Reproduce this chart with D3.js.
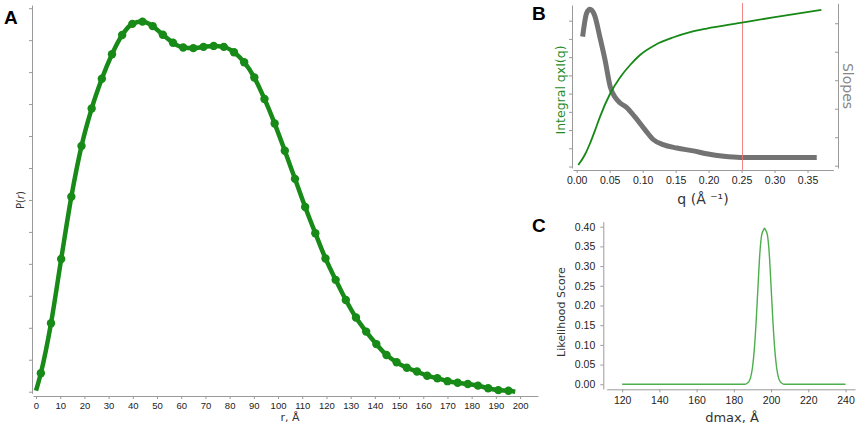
<!DOCTYPE html>
<html>
<head>
<meta charset="utf-8">
<script src="https://cdn.jsdelivr.net/npm/d3@7"></script>
<style>
  body { margin: 0; background: #fff; }
  svg { display: block; font-family: "DejaVu Sans", sans-serif; }
  .ax path, .ax line { stroke: #9a9a9a; }
  .ax text { fill: #222; }
</style>
</head>
<body>
<svg id="fig" width="858" height="426"></svg>
<script>
// ---- panel A : P(r) ----
const rVals = [0, 2.0, 6.2, 10.4, 14.6, 18.8, 23.0, 27.2, 31.4, 35.6, 39.8, 44.0, 48.2, 52.4, 56.6,
  60.8, 65.0, 69.2, 73.4, 77.6, 81.8, 86.0, 90.2, 94.4, 98.6, 102.8, 107.0, 111.2, 115.4, 119.6,
  123.8, 128.0, 132.2, 136.4, 140.6, 144.8, 149.0, 153.2, 157.4, 161.6, 165.8, 170.0, 174.2,
  178.4, 182.6, 186.8, 191.0, 195.2, 198.0];
const prVals = [0.03, 0.58, 2.14, 4.15, 6.10, 7.69, 8.86, 9.79, 10.56, 11.16, 11.51, 11.58, 11.44, 11.17, 10.92,
  10.77, 10.75, 10.79, 10.82, 10.79, 10.62, 10.31, 9.83, 9.16, 8.39, 7.54, 6.66, 5.78, 4.96, 4.17,
  3.50, 2.87, 2.32, 1.88, 1.49, 1.15, 0.92, 0.75, 0.63, 0.50, 0.42, 0.33, 0.28,
  0.24, 0.19, 0.11, 0.05, 0.03, 0.0];
const rTicks = d3.range(0, 201, 10);
const prTicks = d3.range(0, 13, 1);

// ---- panel B : integral and slopes ----
const qInt = [0.0024, 0.0126, 0.020, 0.028, 0.035, 0.051, 0.066, 0.081, 0.096, 0.119, 0.147, 0.172, 0.197, 0.248, 0.298, 0.371];
const intVals = [0.08, 0.66, 1.25, 2.0, 2.7, 4.02, 4.90, 5.57, 6.12, 6.67, 7.09, 7.37, 7.57, 7.88, 8.18, 8.59];
const qSlope = [0.009, 0.015, 0.020, 0.027, 0.035, 0.043, 0.051, 0.058, 0.066, 0.076, 0.088, 0.104, 0.116, 0.131,
  0.152, 0.177, 0.197, 0.223, 0.248, 0.298, 0.364];
const slopeVals = [4.53, 5.35, 5.49, 5.29, 4.53, 3.71, 2.76, 2.41, 2.20, 2.04, 1.72, 1.25, 0.92, 0.74,
  0.62, 0.52, 0.42, 0.33, 0.29, 0.29, 0.29];
const qCut = 0.25;
const qTicks = [0, 0.05, 0.10, 0.15, 0.20, 0.25, 0.30, 0.35];

// ---- panel C : likelihood ----
const dmaxVals = [120, 186, 187, 188, 189, 190, 191, 192, 193, 194, 195, 196, 196.5, 197, 198, 199, 200,
  201, 202, 203, 204, 205, 206, 207, 240];
const scoreVals = [0, 0, 0.002, 0.006, 0.017, 0.042, 0.088, 0.160, 0.249, 0.334, 0.380, 0.392, 0.396, 0.392, 0.380, 0.334, 0.249,
  0.160, 0.088, 0.042, 0.017, 0.006, 0.002, 0, 0];
const dmaxTicks = d3.range(120, 241, 20);
const scoreTicks = d3.range(0, 0.41, 0.05);

const svg = d3.select("#fig");

// panel letters
svg.append("text").attr("x", 4).attr("y", 24).text("A")
  .attr("font-family", "Liberation Sans, Arial").attr("font-weight", "bold").attr("font-size", 19);
svg.append("text").attr("x", 532).attr("y", 20).text("B")
  .attr("font-family", "Liberation Sans, Arial").attr("font-weight", "bold").attr("font-size", 19);
svg.append("text").attr("x", 532).attr("y", 232).text("C")
  .attr("font-family", "Liberation Sans, Arial").attr("font-weight", "bold").attr("font-size", 19);

//---------- A ----------
const xA = d3.scaleLinear().domain([-1.24, 207.4]).range([33, 538]);
const yA = d3.scaleLinear().domain([-0.05, 12.1]).range([393.3, 5]);

svg.append("g").attr("class", "ax").attr("transform", "translate(0,396)")
  .call(d3.axisBottom(xA).tickValues(rTicks).tickSize(3).tickSizeOuter(0).tickPadding(3))
  .call(g => g.selectAll("text").attr("font-size", 9.5));
svg.append("g").attr("class", "ax").attr("transform", "translate(32,0)")
  .call(d3.axisLeft(yA).tickValues(prTicks).tickSize(3).tickSizeOuter(0).tickFormat(""));

svg.append("text").attr("x", 290).attr("y", 421).attr("text-anchor", "middle")
  .attr("font-size", 11).attr("fill", "#333").text("r, Å");
svg.append("text").attr("transform", "translate(24,200) rotate(-90)").attr("text-anchor", "middle")
  .attr("font-size", 10).attr("fill", "#333")
  .html('P(<tspan font-style="italic">r</tspan>)');

const prData = rVals.map((r, i) => [r, prVals[i]]);
svg.append("path").datum(prData)
  .attr("fill", "none").attr("stroke", "#178a17").attr("stroke-width", 4.5).attr("stroke-linejoin", "round")
  .attr("d", d3.line().x(d => xA(d[0])).y(d => yA(d[1])).curve(d3.curveMonotoneX));
svg.append("g").selectAll("circle").data(prData.slice(1, -1)).join("circle")
  .attr("cx", d => xA(d[0])).attr("cy", d => yA(d[1])).attr("r", 4.2).attr("fill", "#178a17");

//---------- B ----------
const xB = d3.scaleLinear().domain([-0.0056, 0.3891]).range([573, 833.3]);
const yBl = d3.scaleLinear().domain([-0.08, 8.86]).range([168, 5]);
const yBr = d3.scaleLinear().domain([-0.08, 5.70]).range([168, 3.3]);

svg.append("g").attr("class", "ax").attr("transform", "translate(0,170)")
  .call(d3.axisBottom(xB).tickValues(qTicks).tickSize(3).tickSizeOuter(0).tickPadding(4)
    .tickFormat(d3.format(".2f")))
  .call(g => g.selectAll("text").attr("font-size", 10.5));
svg.append("g").attr("class", "ax").attr("transform", "translate(572,0)")
  .call(d3.axisLeft(yBl).tickValues(d3.range(0, 9)).tickSize(3).tickSizeOuter(0).tickFormat(""));
svg.append("g").attr("class", "ax").attr("transform", "translate(838,0)")
  .call(d3.axisLeft(yBr).tickValues(d3.range(0, 6)).tickSize(3).tickSizeOuter(0).tickFormat(""));

svg.append("path").datum(qSlope.map((q, i) => [q, slopeVals[i]]))
  .attr("fill", "none").attr("stroke", "#737373").attr("stroke-width", 5).attr("stroke-linejoin", "round")
  .attr("d", d3.line().x(d => xB(d[0])).y(d => yBr(d[1])).curve(d3.curveMonotoneX));

// cut-off marker drawn over the slopes
const xCut = Math.round(xB(qCut)) + 0.5;
svg.append("line").attr("x1", xCut).attr("x2", xCut).attr("y1", 3).attr("y2", 170)
  .attr("stroke", "#f27272").attr("stroke-width", 1).attr("opacity", 0.85);

svg.append("path").datum(qInt.map((q, i) => [q, intVals[i]]))
  .attr("fill", "none").attr("stroke", "#168816").attr("stroke-width", 1.8)
  .attr("d", d3.line().x(d => xB(d[0])).y(d => yBl(d[1])).curve(d3.curveMonotoneX));

svg.append("text").attr("x", 703).attr("y", 204).attr("text-anchor", "middle")
  .attr("font-size", 14).attr("fill", "#333").text("q (Å ⁻¹)");
svg.append("text").attr("transform", "translate(565,90) rotate(-90)").attr("text-anchor", "middle")
  .attr("font-size", 12.5).attr("fill", "#1f8a1f").text("Integral qxI(q)");
svg.append("text").attr("transform", "translate(843,86) rotate(90)").attr("text-anchor", "middle")
  .attr("font-size", 14).attr("fill", "#888").text("Slopes");

//---------- C ----------
const xC = d3.scaleLinear().domain([111.7, 245.1]).range([606.7, 855]);
const yC = d3.scaleLinear().domain([-0.012, 0.4127]).range([389, 221.7]);

svg.append("g").attr("class", "ax").attr("transform", "translate(0,389.3)")
  .call(d3.axisBottom(xC).tickValues(dmaxTicks).tickSize(3).tickSizeOuter(0).tickPadding(4))
  .call(g => g.selectAll("text").attr("font-size", 10.5));
svg.append("g").attr("class", "ax").attr("transform", "translate(603.3,0)")
  .call(d3.axisLeft(yC).tickValues(scoreTicks).tickSize(3).tickSizeOuter(0).tickPadding(5)
    .tickFormat(d3.format(".2f")))
  .call(g => g.selectAll("text").attr("font-size", 10.5));

svg.append("path").datum(dmaxVals.map((d, i) => [d, scoreVals[i]]))
  .attr("fill", "none").attr("stroke", "#4caf4c").attr("stroke-width", 1.4)
  .attr("d", d3.line().x(d => xC(d[0])).y(d => yC(d[1])).curve(d3.curveMonotoneX));

svg.append("text").attr("x", 732).attr("y", 422).attr("text-anchor", "middle")
  .attr("font-size", 13).attr("fill", "#333").text("dmax, Å");
svg.append("text").attr("transform", "translate(565,312) rotate(-90)").attr("text-anchor", "middle")
  .attr("font-size", 11).attr("fill", "#333").text("Likelihood Score");
</script>
</body>
</html>
